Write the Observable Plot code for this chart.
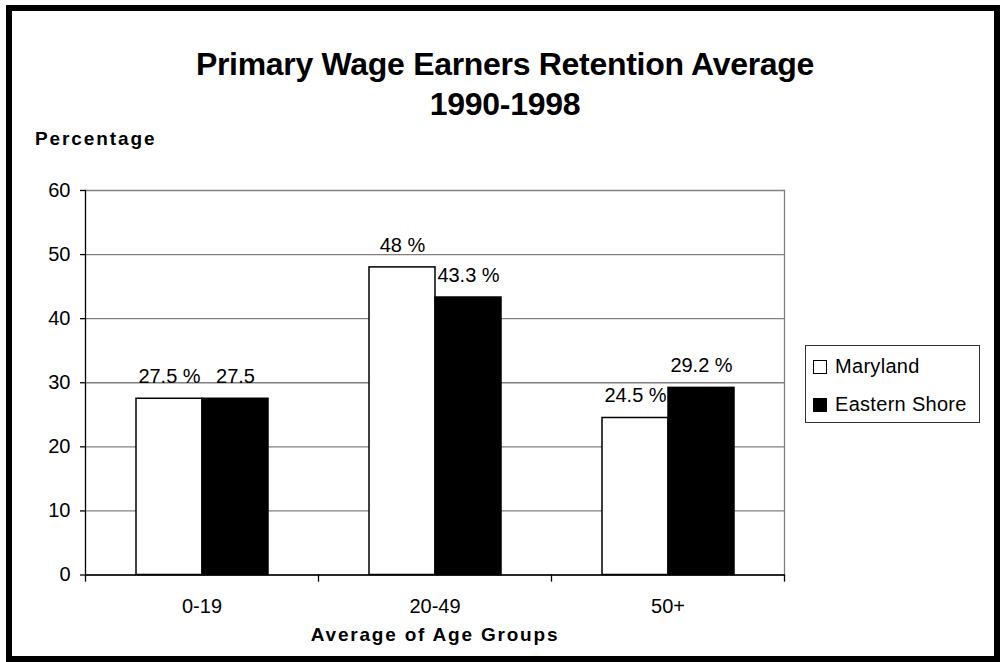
<!DOCTYPE html>
<html>
<head>
<meta charset="utf-8">
<script src="https://cdn.jsdelivr.net/npm/d3@7"></script>
<script src="https://cdn.jsdelivr.net/npm/@observablehq/plot@0.6"></script>
<style>
  html, body { margin: 0; padding: 0; background: #fff; }
  body { width: 1000px; height: 662px; position: relative; overflow: hidden;
         font-family: "Liberation Sans", Arial, sans-serif; color: #000; }
  #border { position: absolute; left: 6px; top: 5px; width: 994px; height: 657px;
            border: 6px solid #000; box-sizing: border-box; }
  #title { position: absolute; left: 0; top: 44px; width: 1010px; text-align: center;
           font-size: 32px; font-weight: bold; line-height: 40px; letter-spacing: -0.3px; }
  #ylabel { position: absolute; left: 35px; top: 128px; font-size: 19px; font-weight: bold;
            line-height: 22px; letter-spacing: 1.9px; }
  #chart { position: absolute; left: 0; top: 160px; }
  #legend { position: absolute; left: 805px; top: 345px; width: 175px; height: 78px;
            border: 1px solid #333; box-sizing: border-box; background: #fff; }
  .item { position: absolute; left: 7px; font-size: 20px; line-height: 22px; white-space: nowrap; letter-spacing: 0.3px; }
  .sw { display: inline-block; width: 14px; height: 14px; border: 1px solid #000;
        box-sizing: border-box; vertical-align: -1px; margin-right: 8px; }
  g[aria-label="fx-axis label"] text { font-weight: bold; letter-spacing: 1.8px; font-size: 19px; }
</style>
</head>
<body>
<div id="border"></div>
<div id="title">Primary Wage Earners Retention Average<br>1990-1998</div>
<div id="ylabel">Percentage</div>
<div id="chart"></div>
<div id="legend"></div>
<script>
const groups = ["0-19", "20-49", "50+"];
const series = ["Maryland", "Eastern Shore"];
const seriesFill = ["white", "black"];
const maryland = [27.5, 48, 24.5];
const easternShore = [27.5, 43.3, 29.2];
const marylandLabels = ["27.5 %", "48 %", "24.5 %"];
const easternShoreLabels = ["27.5", "43.3 %", "29.2 %"];
const yTicks = [0, 10, 20, 30, 40, 50, 60];
const xTitle = "Average of Age Groups";

const mdRows = groups.map((g, i) => ({group: g, series: series[0], value: maryland[i], label: marylandLabels[i]}));
const esRows = groups.map((g, i) => ({group: g, series: series[1], value: easternShore[i], label: easternShoreLabels[i]}));

const W = 1000, H = 490, mT = 30, mB = 75.5, mL = 85, mR = 216;
const plotH = H - mT - mB;

const chart = Plot.plot({
  width: W, height: H,
  marginTop: mT, marginBottom: mB, marginLeft: mL, marginRight: mR,
  style: {fontFamily: '"Liberation Sans", Arial, sans-serif', fontSize: "20px", color: "black", background: "none", overflow: "visible"},
  fx: {domain: groups, padding: 0},
  x: {domain: series, paddingInner: 0, paddingOuter: 0.765, axis: null},
  y: {domain: [0, 60]},
  marks: [
    Plot.gridY(yTicks, {stroke: "#808080", strokeOpacity: 1, strokeWidth: 1.3}),
    Plot.frame({anchor: "right", facetAnchor: "right", stroke: "#808080", strokeWidth: 1.3}),
    Plot.barY(mdRows, {fx: "group", x: "series", y: "value", fill: seriesFill[0], stroke: "black", strokeWidth: 1.5}),
    Plot.text(mdRows, {fx: "group", x: "series", y: "value", text: "label", dy: -22, fontSize: 20}),
    Plot.barY(esRows, {fx: "group", x: "series", y: "value", fill: seriesFill[1], stroke: "black", strokeWidth: 1.5}),
    Plot.text(esRows, {fx: "group", x: "series", y: "value", text: "label", dy: -22, fontSize: 20}),
    Plot.ruleY([0], {stroke: "black", strokeWidth: 1.3}),
    Plot.frame({anchor: "left", facetAnchor: "left", stroke: "black", strokeWidth: 1.3}),
    Plot.frame({anchor: "left", insetTop: plotH, insetBottom: -6, stroke: "black", strokeWidth: 1.3}),
    Plot.frame({anchor: "right", facetAnchor: "right", insetTop: plotH, insetBottom: -6, stroke: "black", strokeWidth: 1.3}),
    Plot.axisY({ticks: yTicks, tickSize: 5, tickPadding: 10, fontSize: 20, label: null, strokeWidth: 1.3}),
    Plot.axisFx({anchor: "bottom", tickSize: 0, tickPadding: 24, fontSize: 20,
                 label: xTitle, labelAnchor: "center", labelOffset: 66})
  ]
});
document.getElementById("chart").appendChild(chart);

const legend = document.getElementById("legend");
series.forEach((s, i) => {
  const item = document.createElement("div");
  item.className = "item";
  item.style.top = (9 + i * 38) + "px";
  const sw = document.createElement("span");
  sw.className = "sw";
  sw.style.background = seriesFill[i];
  item.appendChild(sw);
  item.appendChild(document.createTextNode(s));
  legend.appendChild(item);
});
</script>
</body>
</html>
